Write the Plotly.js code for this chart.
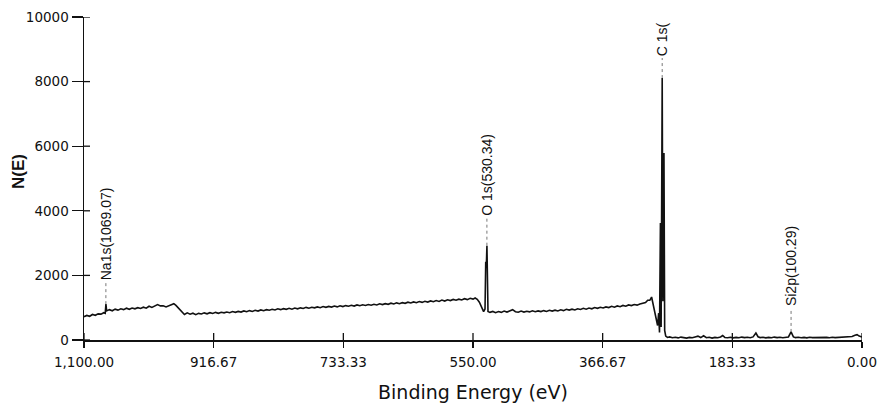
<!DOCTYPE html>
<html>
<head>
<meta charset="utf-8">
<script src="https://cdn.plot.ly/plotly-3.0.1.min.js"></script>
<style>html,body{margin:0;padding:0;background:#fff;}#chart{width:878px;height:405px;}</style>
</head>
<body>
<div id="chart"></div>
<script>
// Binding energy (eV)
var bindingEnergy = [
1100,1096,1092,1088,1084,1080,1076,1072,1070,1069,1068,1064,1060,1056,1052,1048,1044,1040,1036,1032,
1028,1024,1020,1016,1012,1008,1004,1000,996,992,988,984,980,976,973,970,966,962,958,954,
950,946,942,938,934,930,926,922,918,914,910,906,902,898,894,890,886,882,878,874,
870,866,862,858,854,850,846,842,838,834,830,826,822,818,814,810,806,802,798,794,
790,786,782,778,774,770,766,762,758,754,750,746,742,738,734,730,726,722,718,714,
710,706,702,698,694,690,686,682,678,674,670,666,662,658,654,650,646,642,638,634,
630,626,622,618,614,610,606,602,598,594,590,586,582,578,574,570,566,562,558,554,
550,547,544,541,538,535,533,532,531.2,530.3,528.8,526,522,518,514,510,506,502,498,494,
490,486,482,478,474,470,466,462,458,454,450,446,442,438,434,430,426,422,418,414,
410,406,402,398,394,390,386,382,378,374,370,366,362,358,354,350,346,342,338,334,
330,326,322,318,314,310,306,303,300,297.5,295,292,289,287.5,286.3,285,284,282.5,281.5,280,
279,277.5,275,272,268,264,260,256,252,248,244,240,236,232,228,224,220,216,212,208,
204,200,197,194,190,186,182,178,174,170,166,162,158,154,150,147,144,140,136,132,
128,124,120,116,112,108,104,100.3,97,94,90,86,82,78,74,70,66,62,58,54,
50,46,42,38,34,30,26,22,18,14,10,7,4,2,0
];
// Counts N(E)
var countsNE = [
720,760,735,790,765,810,800,845,825,1110,900,940,905,955,925,965,940,985,950,990,
965,1000,975,1015,985,1045,1010,1050,1095,1055,1060,1025,1070,1090,1125,1070,980,870,790,840,
800,830,785,825,805,840,810,845,820,855,825,860,840,865,845,880,855,885,865,900,
875,910,885,920,895,930,905,940,920,950,930,965,940,970,950,980,955,990,965,995,
975,1010,985,1015,995,1025,1000,1035,1010,1040,1020,1050,1025,1060,1035,1065,1045,1075,1050,1085,
1060,1090,1070,1100,1075,1105,1085,1120,1095,1125,1105,1140,1115,1150,1125,1155,1135,1170,1145,1180,
1155,1190,1165,1200,1175,1210,1185,1220,1195,1235,1205,1245,1220,1255,1230,1265,1240,1280,1250,1290,
1265,1300,1260,1170,1000,880,960,2420,2250,2920,880,855,885,845,880,855,895,865,905,940,
875,860,895,865,890,870,905,875,900,880,910,885,920,895,925,900,935,910,950,925,
955,930,965,945,980,955,990,965,1005,980,1015,990,1025,1005,1045,1015,1055,1030,1070,1045,
1085,1065,1100,1080,1115,1130,1160,1230,1230,1330,1050,760,450,830,230,3620,400,8110,1200,5790,
300,120,80,95,70,85,65,90,75,60,80,70,95,120,75,130,70,85,60,80,
70,95,140,80,70,85,65,80,70,90,75,85,70,95,215,100,75,85,65,80,
70,90,75,85,70,80,95,250,95,75,85,70,80,65,85,75,80,70,85,75,
80,70,85,75,80,70,85,90,95,110,150,165,120,100,90
];

// Peak labels
var peakLabels = ["Na1s(1069.07)", "O 1s(530.34)", "C 1s(", "Si2p(100.29)"];
var peakEnergies = [1069.07, 530.34, 282.5, 100.29];
var labelHeights = [1800, 3780, 8730, 990];

// Axis ticks and titles
var xTickVals = [1100, 916.67, 733.33, 550, 366.67, 183.33, 0];
var xTickText = ["1,100.00", "916.67", "733.33", "550.00", "366.67", "183.33", "0.00"];
var yTickVals = [0, 2000, 4000, 6000, 8000, 10000];
var yTickText = ["0", "2000", "4000", "6000", "8000", "10000"];
var xTitle = "Binding Energy (eV)";
var yTitle = "N(E)";

function peakTop(be) {
  var best = 0;
  for (var i = 0; i < bindingEnergy.length; i++) {
    if (Math.abs(bindingEnergy[i] - be) <= 1.5 && countsNE[i] > best) best = countsNE[i];
  }
  return best;
}

var plotW = 878 - 84 - 16, plotH = 405 - 17 - 65;
var tickFont = {family: "DejaVu Sans", size: 13.5, color: "#111"};

var shapes = [], annotations = [];
for (var k = 0; k < peakLabels.length; k++) {
  var peakHeight = peakTop(peakEnergies[k]);
  shapes.push({type: "line", xref: "x", yref: "y", x0: peakEnergies[k], x1: peakEnergies[k],
    y0: peakHeight, y1: labelHeights[k], line: {color: "#777", width: 1, dash: "dot"}});
  annotations.push({xref: "x", yref: "y", x: peakEnergies[k], y: labelHeights[k],
    text: peakLabels[k], textangle: -90, showarrow: false, xanchor: "center", yanchor: "bottom",
    font: {family: "Liberation Sans", size: 14, color: "#111"}});
}
// inner halves of the crossing tick marks
for (var a = 0; a < xTickVals.length; a++) {
  shapes.push({type: "line", xref: "x", yref: "paper", x0: xTickVals[a], x1: xTickVals[a],
    y0: 0, y1: 7 / plotH, line: {color: "#111", width: 1.3}});
}
for (var b = 0; b < yTickVals.length; b++) {
  shapes.push({type: "line", xref: "paper", yref: "y", x0: 0, x1: 6 / plotW,
    y0: yTickVals[b], y1: yTickVals[b], line: {color: "#111", width: 1.3}});
}
annotations.push({xref: "paper", yref: "paper", x: -66 / plotW, y: 0.52, text: yTitle,
  textangle: -90, showarrow: false, xanchor: "center", yanchor: "middle",
  font: {family: "Liberation Sans", size: 17, color: "#111", weight: "bold"}});

var traces = [
  {x: bindingEnergy, y: countsNE, type: "scatter", mode: "lines",
   line: {color: "#111", width: 1.6}, hoverinfo: "skip", showlegend: false}
];

var layout = {
  width: 878, height: 405,
  margin: {l: 84, r: 16, t: 17, b: 65},
  paper_bgcolor: "#fff", plot_bgcolor: "#fff",
  showlegend: false,
  xaxis: {
    range: [1100, 0], tickmode: "array", tickvals: xTickVals, ticktext: xTickText,
    ticks: "outside", ticklen: 6, tickwidth: 1.3, tickcolor: "#111",
    showline: true, linecolor: "#111", linewidth: 1.5, showgrid: false, zeroline: false,
    tickfont: tickFont, automargin: false, ticklabelstandoff: 3,
    title: {text: xTitle, font: {family: "DejaVu Sans", size: 19, color: "#111"}, standoff: 17}
  },
  yaxis: {
    range: [0, 10000], tickmode: "array", tickvals: yTickVals, ticktext: yTickText,
    ticks: "outside", ticklen: 11, tickwidth: 1.3, tickcolor: "#111",
    showline: true, linecolor: "#111", linewidth: 1.5, showgrid: false, zeroline: false,
    tickfont: tickFont, automargin: false
  },
  shapes: shapes,
  annotations: annotations
};

Plotly.newPlot("chart", traces, layout, {staticPlot: true, displayModeBar: false});
</script>
</body>
</html>
